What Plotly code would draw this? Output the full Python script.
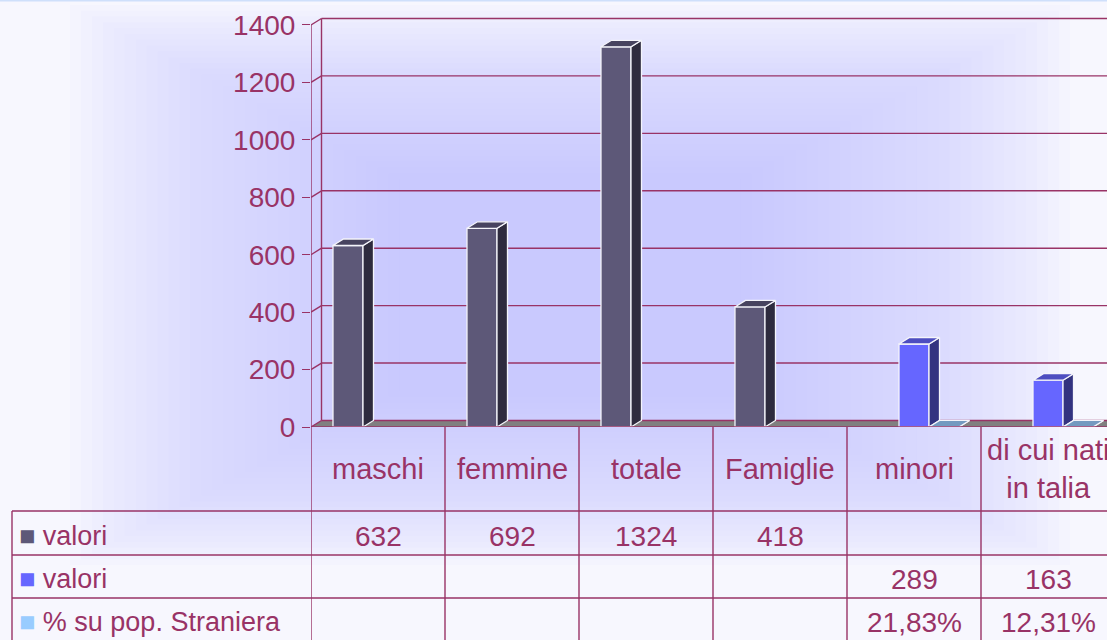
import plotly.graph_objects as go

# data
categories = ['maschi', 'femmine', 'totale', 'Famiglie', 'minori', 'di cui nati<br>in talia']
series_names = ['valori', 'valori', '% su pop. Straniera']
valori_1 = [632, 692, 1324, 418, None, None]
valori_2 = [None, None, None, None, 289, 163]
perc_straniera = [None, None, None, None, 0.2183, 0.1231]
y_ticks = [0, 200, 400, 600, 800, 1000, 1200, 1400]

PLUM = '#993366'
FONT = 'Liberation Sans, Arial, sans-serif'
W, H = 1107, 640
L, R, T, B = 311, 0, 10, 213
PX_PER_X = 134.0
X_RANGE = [-0.5, -0.5 + (W - L - R) / PX_PER_X]
Y_RANGE = [0, 1452.2]
PX_PER_Y = (H - T - B) / Y_RANGE[1]

# 3D depth, in axis units
DX = 10.5 / PX_PER_X
DY = 6.5 / PX_PER_Y
BAR_W = 0.224
OFFSETS = [-0.336, -0.112, 0.112]

# face colours: front, side, top, legend
STYLES = [
    dict(front='#5d5878', side='#2e2b3e', top='#47435f', legend='#5d5878'),
    dict(front='#6666ff', side='#333380', top='#4d4dc0', legend='#6666ff'),
    dict(front='#99ccff', side='#4d6680', top='#739ac0', legend='#99ccff'),
]
EDGE = '#f4f4fa'


def px_x(px):
    return (px - L) / (W - L - R)


def px_y(py):
    return (H - B - py) / (H - T - B)


def fmt_value(v, pct=False):
    if v is None:
        return ''
    if pct:
        return f'{v * 100:.2f}%'.replace('.', ',')
    return f'{v:g}'


fig = go.Figure()

all_series = [valori_1, valori_2, perc_straniera]
idx = list(range(len(categories)))

for k, vals in enumerate(all_series):
    st = STYLES[k]
    # front faces
    fig.add_trace(go.Bar(
        x=idx, y=vals, width=BAR_W, offset=OFFSETS[k],
        marker=dict(color=st['front'], line=dict(color=EDGE, width=1.3)),
        name=series_names[k], hoverinfo='skip', showlegend=False,
    ))
    # side and top faces
    sx, sy, tx, ty = [], [], [], []
    for i, v in zip(idx, vals):
        if v is None:
            continue
        x0 = i + OFFSETS[k]
        x1 = x0 + BAR_W
        sx += [x1, x1 + DX, x1 + DX, x1, x1, None]
        sy += [0, DY, v + DY, v, 0, None]
        tx += [x0, x1, x1 + DX, x0 + DX, x0, None]
        ty += [v, v, v + DY, v + DY, v, None]
    fig.add_trace(go.Scatter(
        x=sx, y=sy, mode='lines', fill='toself', fillcolor=st['side'],
        line=dict(color=EDGE, width=1.3), hoverinfo='skip', showlegend=False,
    ))
    fig.add_trace(go.Scatter(
        x=tx, y=ty, mode='lines', fill='toself', fillcolor=st['top'],
        line=dict(color=EDGE, width=1.3), hoverinfo='skip', showlegend=False,
    ))

shapes = []

# soft rectangular glow behind the chart
n_steps = 32
cx, cy = 570, 285
for s in range(n_steps):
    f = s / (n_steps - 1)
    hw = 500 - f * 340
    hh = 280 - f * 180
    shapes.append(dict(
        type='rect', xref='paper', yref='paper', layer='below',
        x0=px_x(cx - hw), x1=px_x(cx + hw), y0=px_y(cy + hh), y1=px_y(cy - hh),
        fillcolor='rgba(200,201,251,0.055)', line=dict(width=0),
    ))

# thin border at page top
shapes.append(dict(type='line', xref='paper', yref='paper', layer='below',
                   x0=px_x(0), x1=px_x(W), y0=px_y(0.5), y1=px_y(0.5),
                   line=dict(color='#cfe0fb', width=2)))

# floor
xr = X_RANGE[1] + 0.2
shapes.append(dict(
    type='path', xref='x', yref='y', layer='below',
    path=f'M {X_RANGE[0]} 0 L {xr} 0 L {xr + DX} {DY} L {X_RANGE[0] + DX} {DY} Z',
    fillcolor='#808080', line=dict(width=0),
))

# back wall gridlines and connectors
for v in y_ticks:
    shapes.append(dict(type='line', xref='x', yref='y', layer='below',
                       x0=X_RANGE[0] + DX, x1=xr, y0=v + DY, y1=v + DY,
                       line=dict(color=PLUM, width=1.4)))
    shapes.append(dict(type='line', xref='x', yref='y', layer='below',
                       x0=X_RANGE[0], x1=X_RANGE[0] + DX, y0=v, y1=v + DY,
                       line=dict(color=PLUM, width=1.4)))
shapes.append(dict(type='line', xref='x', yref='y', layer='below',
                   x0=X_RANGE[0] + DX, x1=X_RANGE[0] + DX, y0=DY, y1=y_ticks[-1] + DY,
                   line=dict(color=PLUM, width=1.4)))
shapes.append(dict(type='line', xref='x', yref='y', layer='below',
                   x0=X_RANGE[0], x1=X_RANGE[0], y0=0, y1=y_ticks[-1],
                   line=dict(color=PLUM, width=1.4)))

# data table grid
row_lines = [511, 555, 598]
for i in range(len(categories) + 1):
    shapes.append(dict(type='line', xref='x', yref='paper',
                       x0=i - 0.5, x1=i - 0.5, y0=0, y1=px_y(H + 5),
                       line=dict(color=PLUM, width=1.4)))
shapes.append(dict(type='line', xref='x', yref='y',
                   x0=X_RANGE[0], x1=xr, y0=0, y1=0,
                   line=dict(color=PLUM, width=1.4)))
for py in row_lines:
    shapes.append(dict(type='line', xref='paper', yref='paper',
                       x0=px_x(12), x1=px_x(W + 5), y0=px_y(py), y1=px_y(py),
                       line=dict(color=PLUM, width=1.4)))
shapes.append(dict(type='line', xref='paper', yref='paper',
                   x0=px_x(12), x1=px_x(12), y0=px_y(row_lines[0]), y1=px_y(H + 5),
                   line=dict(color=PLUM, width=1.4)))

annotations = []
font = dict(family=FONT, size=28, color=PLUM)
cat_font = dict(family=FONT, size=29, color=PLUM)
row_font = dict(family=FONT, size=27, color=PLUM)

# category labels in the header row
for i, c in enumerate(categories):
    annotations.append(dict(x=i, y=px_y(469), xref='x', yref='paper', text=c,
                            showarrow=False, xanchor='center', yanchor='middle',
                            font=cat_font))

# table rows
row_centres = [536, 579, 622]
for k, vals in enumerate(all_series):
    yc = px_y(row_centres[k])
    label = f'<span style="color:{STYLES[k]["legend"]}">■</span> {series_names[k]}'
    annotations.append(dict(x=px_x(17), y=yc, xref='paper', yref='paper', text=label,
                            showarrow=False, xanchor='left', yanchor='middle',
                            font=row_font))
    for i, v in zip(idx, vals):
        t = fmt_value(v, pct=(k == 2))
        if t:
            annotations.append(dict(x=i, y=yc, xref='x', yref='paper', text=t,
                                    showarrow=False, xanchor='center', yanchor='middle',
                                    font=font))

fig.update_layout(
    width=W, height=H,
    margin=dict(l=L, r=R, t=T, b=B),
    paper_bgcolor='#f7f7fe',
    plot_bgcolor='rgba(0,0,0,0)',
    barmode='overlay',
    showlegend=False,
    shapes=shapes,
    annotations=annotations,
    font=font,
)
fig.update_xaxes(range=X_RANGE, showgrid=False, zeroline=False, showticklabels=False,
                 showline=False, ticks='', fixedrange=True)
fig.update_yaxes(range=Y_RANGE, tickvals=y_ticks, showgrid=False, zeroline=False,
                 showline=False, ticks='outside', ticklen=8, tickwidth=1.4,
                 tickcolor=PLUM, tickfont=font, ticklabelstandoff=1, fixedrange=True)

fig.write_html('out.html', config={'displayModeBar': False},
               post_script="document.body.style.margin='0';document.body.style.overflow='hidden';")
